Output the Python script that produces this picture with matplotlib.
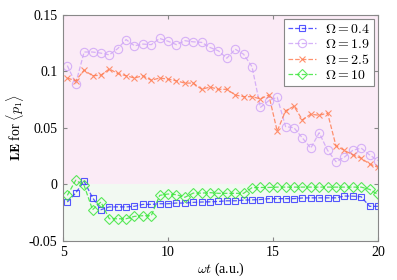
import matplotlib
matplotlib.use("Agg")
import matplotlib.pyplot as plt

plt.rcParams["font.family"] = ["Liberation Serif", "DejaVu Serif"]
plt.rcParams["mathtext.fontset"] = "cm"

wt = [5.2, 5.6, 6.0, 6.4, 6.8, 7.2, 7.6, 8.0, 8.4, 8.8, 9.2, 9.6, 10.0, 10.4,
      10.8, 11.2, 11.6, 12.0, 12.4, 12.8, 13.2, 13.6, 14.0, 14.4, 14.8, 15.2,
      15.6, 16.0, 16.4, 16.8, 17.2, 17.6, 18.0, 18.4, 18.8, 19.2, 19.6, 20.0]

le_04 = [-0.0157, -0.0077, 0.0027, -0.0118, -0.0225, -0.020, -0.020, -0.020,
         -0.0195, -0.0178, -0.0178, -0.0172, -0.0172, -0.0166, -0.0166, -0.016,
         -0.0157, -0.0155, -0.0152, -0.0146, -0.0146, -0.014, -0.0138, -0.0135,
         -0.0127, -0.0127, -0.0127, -0.0127, -0.0121, -0.012, -0.012, -0.012,
         -0.012, -0.0104, -0.0105, -0.011, -0.0195, -0.0195]

le_19 = [0.105, 0.089, 0.117, 0.117, 0.116, 0.1145, 0.120, 0.128, 0.1225,
         0.124, 0.1235, 0.129, 0.1265, 0.1235, 0.127, 0.126, 0.1255, 0.121,
         0.118, 0.1115, 0.1195, 0.115, 0.104, 0.068, 0.074, 0.077, 0.051,
         0.050, 0.041, 0.032, 0.0456, 0.030, 0.020, 0.024, 0.030, 0.032,
         0.026, 0.021]

le_25 = [0.094, 0.0915, 0.101, 0.096, 0.0965, 0.102, 0.098, 0.096, 0.094,
         0.096, 0.092, 0.094, 0.093, 0.0915, 0.0895, 0.0895, 0.084, 0.086,
         0.084, 0.084, 0.079, 0.0775, 0.0775, 0.0755, 0.079, 0.047, 0.065,
         0.069, 0.057, 0.062, 0.061, 0.063, 0.034, 0.030, 0.026, 0.023,
         0.018, 0.015]

le_10 = [-0.0098, 0.0036, -0.001, -0.0225, -0.0157, -0.0305, -0.0305, -0.0305,
         -0.0284, -0.0278, -0.0278, -0.0098, -0.0086, -0.0092, -0.0115, -0.0078,
         -0.0078, -0.0074, -0.008, -0.008, -0.008, -0.008, -0.003, -0.0028,
         -0.0028, -0.0025, -0.0025, -0.0025, -0.0025, -0.0025, -0.0025, -0.0025,
         -0.0025, -0.0025, -0.0025, -0.0025, -0.0045, -0.009]

yticks = [-0.05, 0, 0.05, 0.1, 0.15]
ytick_labels = ["-0.05", "0", "0.05", "0.1", "0.15"]
xticks = [5, 10, 15, 20]

fig = plt.figure(figsize=(3.97, 2.8), dpi=100)
ax = fig.add_axes([0.159, 0.140, 0.793, 0.8075])

ax.axhspan(0, 0.15, color="#fbebf6", zorder=0, lw=0)
ax.axhspan(-0.05, 0, color="#f2f9f2", zorder=0, lw=0)

style = dict(linestyle="--", linewidth=0.9, markerfacecolor="none",
             markeredgewidth=0.8, alpha=0.85)
ax.plot(wt, le_04, color="#3a3aff", marker="s", markersize=5,
        label=r"$\Omega = 0.4$", **style)
ax.plot(wt, le_19, color="#cfa6f7", marker="o", markersize=6,
        label=r"$\Omega = 1.9$", **style)
ax.plot(wt, le_25, color="#ff7f55", marker="x", markersize=5,
        label=r"$\Omega = 2.5$", **style)
ax.plot(wt, le_10, color="#3ee63e", marker="D", markersize=5,
        label=r"$\Omega = 10$", **style)

ax.set_xlim(5, 20)
ax.set_ylim(-0.05, 0.15)
ax.set_xticks(xticks)
ax.set_yticks(yticks)
ax.set_yticklabels(ytick_labels)
ax.tick_params(direction="in", top=True, right=True, length=3,
               color="#888888", labelsize=10, pad=4)
for s in ax.spines.values():
    s.set_color("#888888")
    s.set_linewidth(0.8)

ax.set_xlabel(r"$\omega t$ (a.u.)", fontsize=10, labelpad=1)
ax.set_ylabel(r"$\mathbf{LE}$ for $\langle p_1\rangle$", fontsize=10, labelpad=2)

leg = ax.legend(loc="upper right", fontsize=10, fancybox=False,
                framealpha=1, edgecolor="#888888", borderpad=0.3,
                labelspacing=0.15, handlelength=2.0, handletextpad=0.6,
                borderaxespad=0.3)
leg.get_frame().set_linewidth(0.8)

fig.savefig("out.png", dpi=100)
